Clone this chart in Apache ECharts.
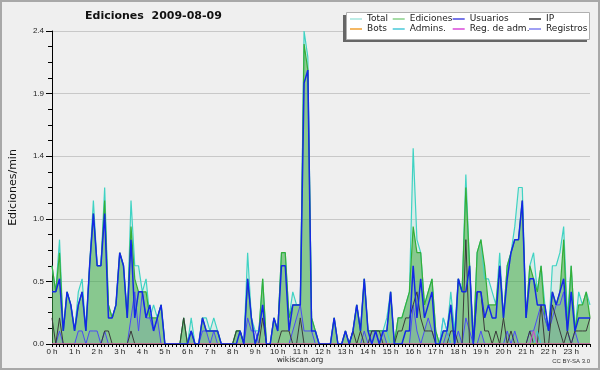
<!DOCTYPE html>
<html><head><meta charset="utf-8">
<script src="https://cdn.jsdelivr.net/npm/echarts@6/dist/echarts.min.js"></script>
<style>html,body{margin:0;padding:0;background:#efefef}#c{width:600px;height:370px}</style>
</head><body><div id="c"></div>
<script>
// x categories: 10-minute bins
const hourLabels = ['0 h','1 h','2 h','3 h','4 h','5 h','6 h','7 h','8 h','9 h','10 h','11 h','12 h','13 h','14 h','15 h','16 h','17 h','18 h','19 h','20 h','21 h','22 h','23 h'];
const minuteLabels = ['00','10','20','30','40','50'];
const yTicks = [0, 0.48, 0.96, 1.44, 1.92, 2.4];

const total = [
0.6,0.4,0.8,0.1,0.4,0.3, 0.1,0.4,0.5,0.1,0.6,1.1, 0.6,0.6,1.2,0.3,0.2,0.3, 0.7,0.6,0.2,1.1,0.6,0.6,
0.4,0.5,0.2,0.3,0.2,0.3, 0,0,0,0,0,0.2, 0,0.2,0,0,0.2,0.2, 0.1,0.2,0.1,0,0,0,
0,0.1,0.1,0,0.7,0.2, 0.1,0.1,0.5,0,0,0.2, 0.1,0.7,0.7,0.2,0.4,0.3, 0.3,2.4,2.2,0.2,0.1,0,
0,0,0,0.2,0,0, 0.1,0,0.1,0.3,0.1,0.5, 0.1,0.1,0.1,0.1,0.1,0.2, 0.4,0,0.2,0.2,0.3,0.4,
1.5,0.8,0.7,0.3,0.4,0.5, 0.1,0,0.2,0.1,0.4,0.1, 0.5,0.4,1.3,0.6,0,0.7, 0.8,0.5,0.5,0.4,0.3,0.7,
0.2,0.6,0.7,0.9,1.2,1.2, 0.2,0.6,0.7,0.4,0.6,0.3, 0.1,0.6,0.6,0.7,0.9,0.2, 0.6,0.1,0.4,0.3,0.4,0.3];

const ediciones = [
0.6,0.4,0.7,0.1,0.4,0.3, 0.1,0.3,0.4,0.1,0.6,1.0, 0.6,0.6,1.1,0.3,0.2,0.3, 0.7,0.6,0.2,0.9,0.5,0.4,
0.4,0.4,0.2,0.2,0.2,0.3, 0,0,0,0,0,0.2, 0,0.1,0,0,0.2,0.1, 0.1,0.1,0.1,0,0,0,
0,0.1,0.1,0,0.5,0.2, 0,0.1,0.5,0,0,0.2, 0.1,0.7,0.7,0.2,0.3,0.3, 0.3,2.3,2.1,0.2,0.1,0,
0,0,0,0.2,0,0, 0.1,0,0.1,0.3,0.1,0.5, 0.1,0.1,0.1,0.1,0.1,0.1, 0.4,0,0.2,0.2,0.3,0.4,
0.9,0.7,0.7,0.3,0.4,0.5, 0.1,0,0.1,0.1,0.3,0, 0.5,0.4,1.2,0.6,0,0.7, 0.8,0.6,0.3,0.3,0.3,0.6,
0.2,0.6,0.7,0.8,0.8,1.1, 0.2,0.6,0.5,0.4,0.6,0.2, 0.1,0.4,0.3,0.4,0.8,0.1, 0.6,0.1,0.3,0.3,0.4,0.2];

const usuarios = [
0.4,0.4,0.5,0.1,0.4,0.3, 0.1,0.3,0.4,0.1,0.6,1.0, 0.6,0.6,1.0,0.2,0.2,0.3, 0.7,0.6,0.2,0.8,0.2,0.4,
0.4,0.2,0.3,0.1,0.2,0.3, 0,0,0,0,0,0, 0,0.1,0,0,0.2,0.1, 0.1,0.1,0.1,0,0,0,
0,0,0.1,0,0.5,0.2, 0,0.1,0.3,0,0,0.2, 0.1,0.6,0.6,0.1,0.3,0.3, 0.3,2.0,2.1,0.1,0.1,0,
0,0,0,0.2,0,0, 0.1,0,0.1,0.3,0.1,0.5, 0.1,0,0.1,0,0.1,0.1, 0.4,0,0,0,0.1,0.1,
0.6,0.2,0.5,0.2,0.3,0.4, 0,0,0.1,0.1,0.3,0, 0.5,0.4,0.4,0.6,0,0.4, 0.4,0.2,0.3,0.2,0.2,0.6,
0.2,0.5,0.7,0.8,0.8,1.1, 0.2,0.5,0.5,0.3,0.3,0.3, 0.1,0.4,0.3,0.4,0.5,0.1, 0.4,0.1,0.2,0.2,0.2,0.2];

const ip = [
0.2,0,0.2,0,0,0, 0,0,0,0,0,0, 0,0,0.1,0.1,0,0, 0,0,0,0.1,0,0,
0,0,0,0,0,0, 0,0,0,0,0,0.2, 0,0,0,0,0,0, 0,0,0,0,0,0,
0,0.1,0.1,0,0,0, 0,0,0.2,0,0,0, 0,0.1,0.1,0.1,0,0, 0.2,0,0,0,0,0,
0,0,0,0,0,0, 0,0,0.1,0,0.1,0, 0,0.1,0.1,0.1,0,0, 0,0,0.1,0.1,0.2,0.2,
0.3,0.4,0.2,0.1,0.1,0.1, 0,0,0,0,0.1,0.1, 0,0,0.8,0,0,0.4, 0.4,0.1,0.1,0,0.1,0,
0.2,0,0.1,0,0,0, 0,0.1,0,0,0.3,0, 0,0.3,0.2,0.1,0,0.1, 0,0.1,0.1,0.1,0.1,0.2];

const registros = [
0,0,0.1,0,0,0, 0,0.1,0.1,0,0.1,0.1, 0.1,0,0.1,0,0,0, 0,0,0,0.2,0.4,0.1,
0.4,0.2,0.2,0.1,0.2,0, 0,0,0,0,0,0, 0,0.1,0,0,0.1,0.1, 0,0.1,0,0,0,0,
0,0,0,0,0.2,0.1, 0.1,0,0,0,0,0, 0,0,0,0,0.1,0.2, 0.3,0.1,0.1,0.1,0,0,
0,0,0,0,0,0, 0,0,0,0,0,0.1, 0,0.1,0.1,0,0.1,0, 0,0,0,0,0,0,
0.3,0.1,0,0.1,0.2,0.1, 0,0,0,0.1,0,0, 0.1,0,0.2,0.1,0,0, 0.1,0,0,0,0,0,
0,0.1,0,0.1,0,0, 0,0.1,0.1,0.2,0.3,0.2, 0.1,0.2,0.3,0.3,0.4,0.1, 0,0.1,0,0,0,0];

const admins = [
0,0,0,0,0,0, 0,0,0,0,0,0, 0,0,0,0,0,0, 0,0,0,0,0,0,
0,0,0,0,0,0, 0,0,0,0,0,0, 0,0,0,0,0,0, 0,0,0,0,0,0,
0,0,0,0,0,0, 0,0,0,0,0,0, 0,0,0,0,0,0, 0,0,0,0,0,0,
0,0,0,0,0,0, 0,0,0,0,0,0, 0,0,0,0,0.1,0.1, 0,0,0,0,0,0,
0,0,0,0,0,0, 0,0,0.2,0.1,0,0, 0,0,0,0,0,0, 0,0,0,0,0,0,
0,0,0,0,0,0, 0,0,0,0.1,0,0, 0,0,0,0,0,0, 0,0,0,0,0,0];

const regAdm = [
0,0,0,0,0,0, 0,0,0,0,0,0, 0,0,0,0,0,0, 0,0,0,0,0,0,
0,0,0,0,0,0, 0,0,0,0,0,0, 0,0,0,0,0,0, 0,0,0,0,0,0,
0,0,0,0,0,0, 0,0,0,0,0,0, 0,0,0,0,0,0, 0,0,0,0,0,0,
0,0,0,0,0,0, 0,0,0,0,0,0, 0,0,0,0,0,0, 0,0,0,0,0,0,
0,0,0,0,0,0, 0,0,0,0,0,0, 0,0,0,0,0,0, 0,0,0,0,0,0,
0,0,0,0,0,0, 0,0,0.1,0,0,0, 0,0,0,0,0,0, 0,0,0,0,0,0];

const bots = [
0,0,0,0,0,0, 0,0,0,0,0,0, 0,0,0,0,0,0, 0,0,0,0,0,0,
0,0,0,0,0,0, 0,0,0,0,0,0, 0,0,0,0,0,0, 0,0,0,0,0,0,
0,0,0,0,0,0, 0,0,0,0,0,0, 0,0,0,0,0,0, 0,0,0,0,0,0,
0,0,0,0,0,0, 0,0,0,0,0,0, 0,0,0,0,0,0, 0,0,0,0,0,0,
0,0,0,0,0,0, 0,0,0,0,0,0, 0,0,0,0,0,0, 0,0,0,0,0,0,
0,0,0,0,0,0, 0,0,0,0,0,0, 0,0,0,0,0,0, 0,0,0,0,0,0];

const categories = [];
hourLabels.forEach(h => minuteLabels.forEach(m => categories.push(h + '|' + m)));

const chart = echarts.init(document.getElementById('c'), null, {renderer: 'canvas'});
const sans = 'DejaVu Sans';
function lineSeries(name, data, color, width, area, z) {
  const s = {name, type: 'line', data, symbol: 'none', smooth: false, z: z || 2,
    lineStyle: {color, width}, itemStyle: {color}, emphasis: {disabled: true}, animation: false};
  if (area) s.areaStyle = {color: area, opacity: 1};
  return s;
}
function legendCol(left, items) {
  return {left, top: 14, orient: 'vertical', padding: 0, itemGap: 0, icon: 'rect',
    itemWidth: 12, itemHeight: 1.5, selectedMode: false, z: 6,
    textStyle: {fontFamily: sans, fontSize: 9, color: '#222', lineHeight: 10},
    data: items.map(it => ({name: it[0], itemStyle: {color: it[1], borderWidth: 0}}))};
}
const option = {
  backgroundColor: '#efefef',
  animation: false,
  title: {text: 'Ediciones  2009-08-09', left: 85, top: 11, padding: 0,
    textStyle: {fontFamily: sans, fontSize: 11, fontWeight: 'bold', color: '#111'}},
  legend: [
    legendCol(350, [['Total', '#a6e6de'], ['Bots', '#f0a030']]),
    legendCol(392.7, [['Ediciones', '#88d088'], ['Admins.', '#48c8d8']]),
    legendCol(452.7, [['Usuarios', '#4848e0'], ['Reg. de adm.', '#d848d8']]),
    legendCol(529, [['IP', '#333333'], ['Registros', '#8080f0']])
  ],
  grid: {left: 46.5, right: 10, top: 31, bottom: 26, containLabel: false},
  xAxis: {type: 'category', data: categories, boundaryGap: false, z: 10,
    axisLine: {lineStyle: {color: '#000', width: 1}},
    axisTick: {show: true, interval: 0, length: 3, lineStyle: {color: '#000'}},
    axisLabel: {interval: 0, margin: 4, fontFamily: 'Liberation Sans', fontSize: 8, color: '#222',
      formatter: v => { const p = v.split('|'); return p[1] === '00' ? p[0] : ''; }},
    splitLine: {show: false}},
  yAxis: {type: 'value', min: yTicks[0], max: yTicks[yTicks.length - 1], interval: yTicks[1],
    name: 'Ediciones/min', nameLocation: 'middle', nameGap: 33, nameRotate: 90,
    nameTextStyle: {fontFamily: sans, fontSize: 11, color: '#111'},
    axisLine: {show: true, lineStyle: {color: '#000'}},
    axisTick: {show: true, length: 6, lineStyle: {color: '#000'}},
    minorTick: {show: true, splitNumber: 4, length: 4, lineStyle: {color: '#000'}},
    axisLabel: {margin: 8, fontFamily: 'Liberation Sans', fontSize: 8, color: '#222',
      formatter: v => (Math.round(v * 10) / 10).toFixed(1)},
    splitLine: {show: true, lineStyle: {color: '#c8c8c8', width: 1}}},
  series: [
    lineSeries('Total', total, '#3fd3c3', 1.2, 'rgba(110,215,200,0.16)'),
    lineSeries('Ediciones', ediciones, '#36ae36', 1.2, 'rgba(45,160,45,0.48)'),
    lineSeries('Registros', registros, '#4b4bf5', 1, 'rgba(80,80,240,0.10)'),
    lineSeries('IP', ip, '#3a3a3a', 1),
    lineSeries('Admins.', admins, '#40c8d8', 1),
    lineSeries('Bots', bots, '#ff9900', 1),
    lineSeries('Reg. de adm.', regAdm, '#d040d0', 1),
    lineSeries('Usuarios', usuarios, '#1428e6', 1.5)
  ],
  graphic: [
    {type: 'rect', z: 100, silent: true, shape: {x: 1, y: 1, width: 598, height: 368},
      style: {fill: 'none', stroke: '#a8a8a8', lineWidth: 2}},
    {type: 'rect', z: 3, silent: true, shape: {x: 343, y: 15, width: 244, height: 27}, style: {fill: '#666'}},
    {type: 'rect', z: 3, silent: true, shape: {x: 346.5, y: 12.5, width: 243, height: 27},
      style: {fill: '#fff', stroke: '#b0b0b0', lineWidth: 1}},
    {type: 'text', z: 5, left: 'center', top: 356, silent: true,
      style: {text: 'wikiscan.org', font: '7.5px "DejaVu Sans"', fill: '#222'}},
    {type: 'text', z: 5, right: 10, top: 358, silent: true,
      style: {text: 'CC BY-SA 3.0', font: '6px "Liberation Sans"', fill: '#333'}}
  ]
};
chart.setOption(option);
</script>
</body></html>
